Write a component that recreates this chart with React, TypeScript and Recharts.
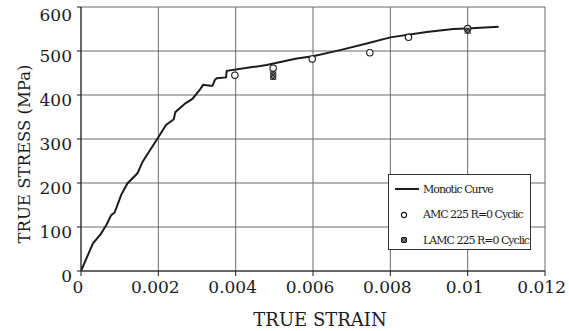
import React from 'react';
import {
  ComposedChart,
  Line,
  Scatter,
  XAxis,
  YAxis,
  CartesianGrid,
  Legend,
} from 'recharts';

// Monotonic tensile curve
const monoStrain = [
  0, 0.00031, 0.00051, 0.00066, 0.00078, 0.00087, 0.00104, 0.0012, 0.00146,
  0.00159, 0.00173, 0.002, 0.0022, 0.0024, 0.00244, 0.0027, 0.00288, 0.00308,
  0.00316, 0.00335, 0.0034, 0.00346, 0.00351, 0.00375, 0.00377, 0.0048,
  0.00558, 0.006, 0.0067, 0.00739, 0.008, 0.00894, 0.00963, 0.00997, 0.0108,
];
const monoStress = [
  0, 63, 84, 105, 127, 133, 173, 199, 222, 248, 267, 304, 332, 345, 361, 381,
  391, 413, 423, 421, 421, 434, 438, 440, 455, 468, 483, 488, 502, 517, 531,
  543, 550, 551, 555,
];

// AMC 225, R = 0 cyclic stable points
const amcStrain = [0.00398, 0.00497, 0.00598, 0.00747, 0.00847, 0.01];
const amcStress = [445, 461, 482, 496, 531, 551];

// LAMC 225, R = 0 cyclic stable points
const lamcStrain = [0.00497, 0.00497, 0.01];
const lamcStress = [448, 441, 546];

const xTicks = [0, 0.002, 0.004, 0.006, 0.008, 0.01, 0.012];
const yTicks = [0, 100, 200, 300, 400, 500, 600];

const seriesNames = ['Monotic Curve', 'AMC 225 R=0 Cyclic', 'LAMC 225 R=0 Cyclic'];

const monoData = monoStrain.map((x, i) => ({ x, y: monoStress[i] }));
const amcData = amcStrain.map((x, i) => ({ x, y: amcStress[i] }));
const lamcData = lamcStrain.map((x, i) => ({ x, y: lamcStress[i] }));

const FONT = 'DejaVu Serif';
const INK = '#1c1c1c';

const OpenCircle = (props: any) => {
  const { cx, cy } = props;
  if (cx == null || cy == null) return null;
  return <circle cx={cx} cy={cy} r={3.2} fill="#fff" stroke={INK} strokeWidth={1.1} />;
};

const HatchMark = (props: any) => {
  const { cx, cy } = props;
  if (cx == null || cy == null) return null;
  return (
    <g>
      <rect x={cx - 3} y={cy - 3} width={6} height={6} fill="#2a2a2a" />
      <path
        d={`M${cx - 3},${cy - 3}L${cx + 3},${cy + 3}M${cx + 3},${cy - 3}L${cx - 3},${cy + 3}`}
        stroke="#9a9a9a"
        strokeWidth={0.8}
      />
    </g>
  );
};

const LegendBox = () => (
  <div
    style={{
      width: 141,
      height: 74,
      border: '1px solid #333',
      background: '#fff',
      fontFamily: FONT,
      fontSize: 11,
      letterSpacing: -1,
      color: INK,
      position: 'relative',
    }}
  >
    {seriesNames.map((name, i) => (
      <div
        key={name}
        style={{
          position: 'absolute',
          left: 0,
          top: 4 + i * 25.5,
          height: 20,
          display: 'flex',
          alignItems: 'center',
          whiteSpace: 'nowrap',
        }}
      >
        <svg width={34} height={20} style={{ display: 'block' }}>
          {i === 0 && <line x1={6} y1={10} x2={30} y2={10} stroke={INK} strokeWidth={2} />}
          {i === 1 && <circle cx={15} cy={10} r={2.6} fill="#fff" stroke={INK} strokeWidth={1.1} />}
          {i === 2 && <HatchMark cx={15} cy={10} />}
        </svg>
        <span>{name}</span>
      </div>
    ))}
  </div>
);

const XTitle = (props: any) => {
  const vb = props.viewBox || {};
  return (
    <text
      x={vb.x + vb.width / 2 + 7}
      y={vb.y + 55}
      textAnchor="middle"
      style={{ fontFamily: FONT, fontSize: 18 }}
      fill={INK}
    >
      TRUE STRAIN
    </text>
  );
};

const YTitle = () => (
  <text
    x={24}
    y={154}
    transform="rotate(-90 24 154)"
    textAnchor="middle"
    dominantBaseline="central"
    style={{ fontFamily: FONT, fontSize: 16.5 }}
    fill={INK}
  >
    TRUE STRESS (MPa)
  </text>
);

const tickStyle = { fontFamily: FONT, fontSize: 17, fill: INK };

export default function App() {
  return (
    <div style={{ position: 'absolute', left: 0, top: 0, width: 569, height: 331, background: '#fff', fontFamily: FONT }}>
      <ComposedChart
        width={569}
        height={331}
        margin={{ top: 7, right: 24, left: 0, bottom: 0 }}
      >
        <CartesianGrid stroke="#6a6a6a" strokeWidth={1} />
        <XAxis
          type="number"
          dataKey="x"
          domain={[0, 0.012]}
          ticks={xTicks}
          allowDataOverflow
          height={60}
          stroke={INK}
          tickSize={5}
          tickMargin={5}
          tickFormatter={(v: number) => String(v)}
          tick={{ ...tickStyle, style: tickStyle, dx: -3 }}
          label={<XTitle />}
        />
        <YAxis
          type="number"
          dataKey="y"
          domain={[0, 600]}
          ticks={yTicks}
          allowDataOverflow
          width={81}
          stroke={INK}
          tickSize={4}
          tickMargin={5}
          tick={{ ...tickStyle, style: tickStyle, dy: 5 }}
          label={<YTitle />}
        />
        <Line
          data={monoData}
          dataKey="y"
          name={seriesNames[0]}
          type="linear"
          stroke={INK}
          strokeWidth={2}
          dot={false}
          activeDot={false}
          isAnimationActive={false}
        />
        <Scatter
          data={amcData}
          dataKey="y"
          name={seriesNames[1]}
          shape={<OpenCircle />}
          isAnimationActive={false}
        />
        <Scatter
          data={lamcData}
          dataKey="y"
          name={seriesNames[2]}
          shape={<HatchMark />}
          isAnimationActive={false}
        />
        <Legend
          layout="vertical"
          align="center"
          verticalAlign="middle"
          content={<LegendBox />}
          wrapperStyle={{ left: 388, top: 174, width: 143, height: 76 }}
        />
      </ComposedChart>
    </div>
  );
}
